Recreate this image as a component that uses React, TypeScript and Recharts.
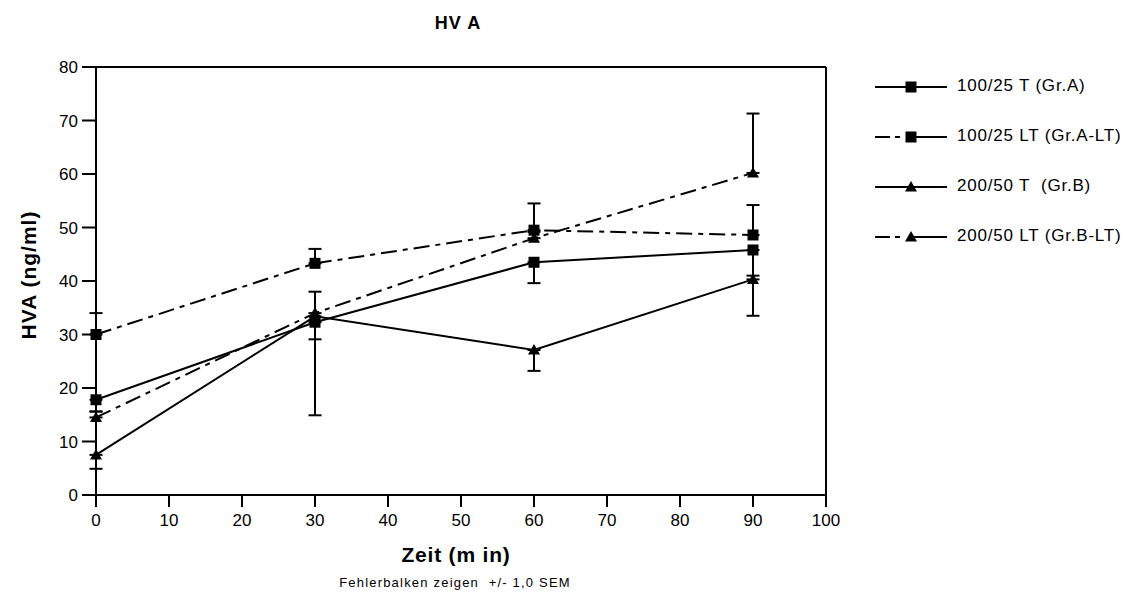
import React from 'react';
import { LineChart, Line, XAxis, YAxis, ErrorBar, ReferenceLine } from 'recharts';

// Messzeitpunkte (min)
const times = [0, 30, 60, 90];

// Mittelwerte HVA (ng/ml)
const grA = [17.8, 32.3, 43.5, 45.8];
const grALT = [30.0, 43.3, 49.5, 48.6];
const grB = [7.5, 33.4, 27.1, 40.3];
const grBLT = [14.5, 34.0, 48.0, 60.2];

// SEM, einseitig gezeichnet (T nach unten, LT nach oben)
const grASem = [2.2, 3.2, 3.9, 4.8];
const grALTSem = [4.0, 2.7, 5.0, 5.6];
const grBSem = [2.6, 18.5, 3.9, 6.8];
const grBLTSem = [1.1, 4.0, 1.2, 11.1];

const xTicks = [0, 10, 20, 30, 40, 50, 60, 70, 80, 90, 100];
const yTicks = [0, 10, 20, 30, 40, 50, 60, 70, 80];

const labels = ['100/25 T (Gr.A)', '100/25 LT (Gr.A-LT)', '200/50 T  (Gr.B)', '200/50 LT (Gr.B-LT)'];

const data = times.map((t, i) => ({
  t,
  grA: grA[i],
  grAErr: [grASem[i], 0],
  grALT: grALT[i],
  grALTErr: [0, grALTSem[i]],
  grB: grB[i],
  grBErr: [grBSem[i], 0],
  grBLT: grBLT[i],
  grBLTErr: [0, grBLTSem[i]],
}));

const series = [
  { key: 'grA', err: 'grAErr', label: labels[0], dashed: false, shape: 'square' },
  { key: 'grALT', err: 'grALTErr', label: labels[1], dashed: true, shape: 'square' },
  { key: 'grB', err: 'grBErr', label: labels[2], dashed: false, shape: 'triangle' },
  { key: 'grBLT', err: 'grBLTErr', label: labels[3], dashed: true, shape: 'triangle' },
];

const FONT = '"Liberation Sans", Arial, sans-serif';
const DASH = '16 6 5 6';

function Marker({ cx, cy, shape }: { cx: number; cy: number; shape: string }) {
  if (shape === 'square') {
    return <rect x={cx - 5.5} y={cy - 5.5} width={11} height={11} fill="#000" />;
  }
  return <path d={`M${cx},${cy - 6} L${cx + 6},${cy + 4.5} L${cx - 6},${cy + 4.5} Z`} fill="#000" />;
}

const dotFor = (shape: string) => (p: any) => (
  <g key={`${shape}-${p.index}`}>
    <Marker cx={p.cx} cy={p.cy} shape={shape} />
  </g>
);

function LegendBox() {
  return (
    <div style={{ position: 'absolute', left: 870, top: 70, width: 258 }}>
      {series.map((s, i) => (
        <div key={s.key} style={{ position: 'absolute', top: i * 50, left: 0, height: 36, width: 258 }}>
          <svg width={84} height={36} style={{ position: 'absolute', left: 0, top: 0 }}>
            {s.dashed ? (
              <line x1={5} y1={17} x2={38} y2={17} stroke="#000" strokeWidth={2} strokeDasharray="15 5 5 20" />
            ) : (
              <line x1={5} y1={17} x2={40} y2={17} stroke="#000" strokeWidth={2} />
            )}
            <line x1={40} y1={17} x2={77} y2={17} stroke="#000" strokeWidth={2} />
            <Marker cx={41} cy={17} shape={s.shape} />
          </svg>
          <div
            style={{
              position: 'absolute',
              left: 87,
              top: 6,
              fontFamily: FONT,
              fontSize: 17,
              letterSpacing: 0.8,
              whiteSpace: 'pre',
              color: '#000',
            }}
          >
            {s.label}
          </div>
        </div>
      ))}
    </div>
  );
}

export default function App() {
  return (
    <div style={{ position: 'absolute', left: 0, top: 0, width: 1128, height: 598, background: '#fff' }}>
      <LineChart
        width={1128}
        height={598}
        data={data}
        margin={{ top: 67, right: 302, bottom: 63, left: 16 }}
      >
        <XAxis
          dataKey="t"
          type="number"
          domain={[0, 100]}
          ticks={xTicks}
          height={40}
          axisLine={{ stroke: '#000', strokeWidth: 2 }}
          tickLine={{ stroke: '#000', strokeWidth: 2 }}
          tickSize={12}
          tickMargin={7}
          tick={{ fill: '#000', fontSize: 17, fontFamily: FONT }}
          interval={0}
        />
        <YAxis
          type="number"
          domain={[0, 80]}
          ticks={yTicks}
          width={80}
          axisLine={{ stroke: '#000', strokeWidth: 2 }}
          tickLine={{ stroke: '#000', strokeWidth: 2 }}
          tickSize={14}
          tickMargin={4}
          tick={{ fill: '#000', fontSize: 17, fontFamily: FONT }}
          interval={0}
        />
        <ReferenceLine y={80} stroke="#000" strokeWidth={2} ifOverflow="extendDomain" />
        <ReferenceLine x={100} stroke="#000" strokeWidth={2} ifOverflow="extendDomain" />
        {series.map((s) => (
          <Line
            key={s.key}
            dataKey={s.key}
            type="linear"
            stroke="#000"
            strokeWidth={2}
            strokeDasharray={s.dashed ? DASH : undefined}
            dot={dotFor(s.shape)}
            activeDot={false}
            isAnimationActive={false}
          >
            <ErrorBar dataKey={s.err} direction="y" width={6.5} stroke="#000" strokeWidth={2} isAnimationActive={false} />
          </Line>
        ))}
      </LineChart>

      <div
        style={{
          position: 'absolute',
          left: 0,
          width: 916,
          top: 13,
          textAlign: 'center',
          fontFamily: FONT,
          fontWeight: 'bold',
          fontSize: 18,
          letterSpacing: 1,
        }}
      >
        HV A
      </div>
      <div
        style={{
          position: 'absolute',
          left: 0,
          width: 912,
          top: 543,
          textAlign: 'center',
          fontFamily: FONT,
          fontWeight: 'bold',
          fontSize: 21,
          letterSpacing: 0.8,
          whiteSpace: 'pre',
        }}
      >
        Zeit (m in)
      </div>
      <div
        style={{
          position: 'absolute',
          left: 0,
          width: 910,
          top: 575,
          textAlign: 'center',
          fontFamily: FONT,
          fontSize: 13,
          letterSpacing: 1.2,
          whiteSpace: 'pre',
        }}
      >
        Fehlerbalken zeigen  +/- 1,0 SEM
      </div>
      <div
        style={{
          position: 'absolute',
          left: 29,
          top: 275,
          transform: 'translate(-50%, -50%) rotate(-90deg)',
          fontFamily: FONT,
          fontWeight: 'bold',
          fontSize: 21,
          letterSpacing: 1,
          whiteSpace: 'nowrap',
        }}
      >
        HVA (ng/ml)
      </div>
      <LegendBox />
    </div>
  );
}
